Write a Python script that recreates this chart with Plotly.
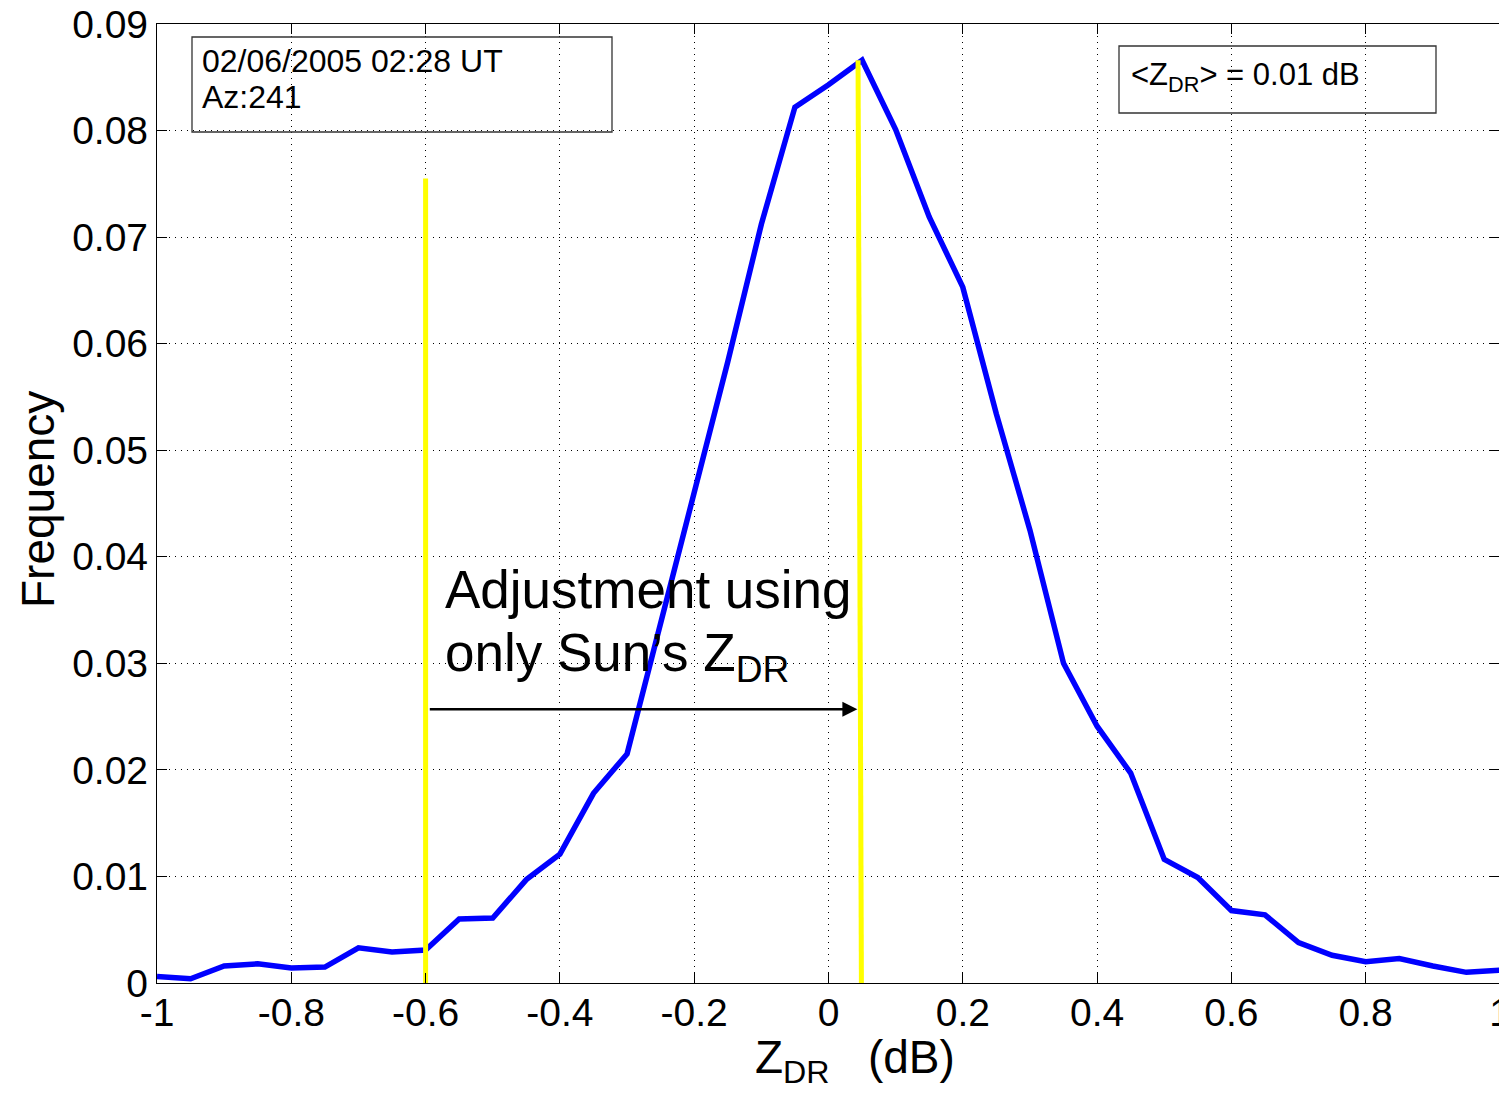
import plotly.graph_objects as go

# ---- data ----
zdr = [-1.00, -0.95, -0.90, -0.85, -0.80, -0.75, -0.70, -0.65, -0.60, -0.55,
       -0.50, -0.45, -0.40, -0.35, -0.30, -0.25, -0.20, -0.15, -0.10, -0.05,
       0.00, 0.05, 0.10, 0.15, 0.20, 0.25, 0.30, 0.35, 0.40, 0.45,
       0.50, 0.55, 0.60, 0.65, 0.70, 0.75, 0.80, 0.85, 0.90, 0.95, 1.00]
freq = [0.0006, 0.0004, 0.0016, 0.0018, 0.0014, 0.0015, 0.0033, 0.0029, 0.0031, 0.0060,
        0.0061, 0.0097, 0.0121, 0.0178, 0.0215, 0.0337, 0.0457, 0.0583, 0.0712, 0.0822,
        0.0843, 0.0866, 0.0801, 0.0719, 0.0653, 0.0534, 0.0425, 0.0300, 0.0241, 0.0197,
        0.0116, 0.0099, 0.0068, 0.0064, 0.0038, 0.0026, 0.0020, 0.0023, 0.0016, 0.0010, 0.0012]

left_marker_x = [-0.60, -0.60]
left_marker_y = [0.0, 0.0755]
right_marker_x = [0.049, 0.044]
right_marker_y = [0.0, 0.0866]

arrow_start = (-0.596, 0.0257)
arrow_end = (0.043, 0.0257)

x_ticks = [-1, -0.8, -0.6, -0.4, -0.2, 0, 0.2, 0.4, 0.6, 0.8, 1]
x_ticklabels = ["-1", "-0.8", "-0.6", "-0.4", "-0.2", "0", "0.2", "0.4", "0.6", "0.8", "1"]
y_ticks = [0, 0.01, 0.02, 0.03, 0.04, 0.05, 0.06, 0.07, 0.08, 0.09]
y_ticklabels = ["0", "0.01", "0.02", "0.03", "0.04", "0.05", "0.06", "0.07", "0.08", "0.09"]

info_line1 = "02/06/2005 02:28 UT"
info_line2 = "Az:241"
mean_text = "&lt;Z<sub>DR</sub>&gt; = 0.01 dB"
adj_line1 = "Adjustment using"
adj_line2 = "only Sun\u2019s Z<sub>DR</sub>"

FONT = "Liberation Sans, Arial, sans-serif"

# ---- geometry (target page pixels; the HTML body adds an 8px margin) ----
OFF = 8
W, H = 1507 - OFF, 1096 - OFF
PL, PR, PT, PB = 157, 1500, 24, 983          # plot box on the page
L, R, T, B = PL - OFF, PR - OFF, PT - OFF, PB - OFF  # plot box in figure coords
XMIN, XMAX, YMIN, YMAX = -1.0, 1.0, 0.0, 0.09


def dx(px):
    return XMIN + (px - PL) / (PR - PL) * (XMAX - XMIN)


def dy(py):
    return YMIN + (PB - py) / (PB - PT) * (YMAX - YMIN)


fig = go.Figure()
fig.add_trace(go.Scatter(x=zdr, y=freq, mode="lines",
                         line=dict(color="#0000FF", width=5.5), showlegend=False))
fig.add_trace(go.Scatter(x=left_marker_x, y=left_marker_y, mode="lines",
                         line=dict(color="#FFFF00", width=5), showlegend=False))
fig.add_trace(go.Scatter(x=right_marker_x, y=right_marker_y, mode="lines",
                         line=dict(color="#FFFF00", width=5), showlegend=False))

shapes = [
    dict(type="rect", xref="x", yref="y", x0=dx(192), x1=dx(612), y0=dy(132), y1=dy(37),
         line=dict(color="#333333", width=1.3), fillcolor="rgba(255,255,255,0)"),
    dict(type="rect", xref="x", yref="y", x0=dx(1119), x1=dx(1436), y0=dy(113), y1=dy(46),
         line=dict(color="#333333", width=1.3), fillcolor="rgba(255,255,255,0)"),
]

annotations = [
    dict(x=dx(200), y=dy(61), xref="x", yref="y", text=info_line1, showarrow=False,
         xanchor="left", yanchor="middle", font=dict(family=FONT, size=32, color="black")),
    dict(x=dx(200), y=dy(97), xref="x", yref="y", text=info_line2, showarrow=False,
         xanchor="left", yanchor="middle", font=dict(family=FONT, size=32, color="black")),
    dict(x=dx(1129), y=dy(77), xref="x", yref="y", text=mean_text, showarrow=False,
         xanchor="left", yanchor="middle", font=dict(family=FONT, size=31, color="black")),
    dict(x=dx(443), y=dy(589), xref="x", yref="y", text=adj_line1, showarrow=False,
         xanchor="left", yanchor="middle", font=dict(family=FONT, size=53, color="black")),
    dict(x=dx(443), y=dy(656), xref="x", yref="y", text=adj_line2, showarrow=False,
         xanchor="left", yanchor="middle", font=dict(family=FONT, size=53, color="black")),
    dict(x=arrow_end[0], y=arrow_end[1], ax=arrow_start[0], ay=arrow_start[1],
         xref="x", yref="y", axref="x", ayref="y", text="", showarrow=True,
         arrowhead=2, arrowsize=1.2, arrowwidth=2.5, arrowcolor="black"),
    # axis titles
    dict(x=(855 - PL) / (PR - PL), y=(PB - 1060) / (PB - PT), xref="paper", yref="paper",
         text="Z<sub>DR</sub>   (dB)", showarrow=False, xanchor="center", yanchor="middle",
         font=dict(family=FONT, size=46, color="black")),
    dict(x=(38 - PL) / (PR - PL), y=(PB - 500) / (PB - PT), xref="paper", yref="paper",
         text="Frequency", showarrow=False, textangle=-90, xanchor="center", yanchor="middle",
         font=dict(family=FONT, size=46, color="black")),
]

axis_common = dict(showline=True, linecolor="black", linewidth=1.3, mirror="ticks",
                   ticks="inside", ticklen=10, tickcolor="black", tickwidth=1.3,
                   showgrid=True, gridcolor="black", gridwidth=1, griddash="1px,5px",
                   zeroline=False, ticklabeloverflow="allow", automargin=False,
                   tickfont=dict(family=FONT, size=39, color="black"))

fig.update_layout(
    width=W, height=H, autosize=False,
    margin=dict(l=L, r=W - R, t=T, b=H - B, pad=0, autoexpand=False),
    paper_bgcolor="white", plot_bgcolor="white",
    xaxis=dict(range=[XMIN, XMAX], tickvals=x_ticks, ticktext=x_ticklabels,
               ticklabelstandoff=-5, **axis_common),
    yaxis=dict(range=[YMIN, YMAX], tickvals=y_ticks, ticktext=y_ticklabels, **axis_common),
    shapes=shapes, annotations=annotations, showlegend=False,
)

fig.write_html("out.html")
